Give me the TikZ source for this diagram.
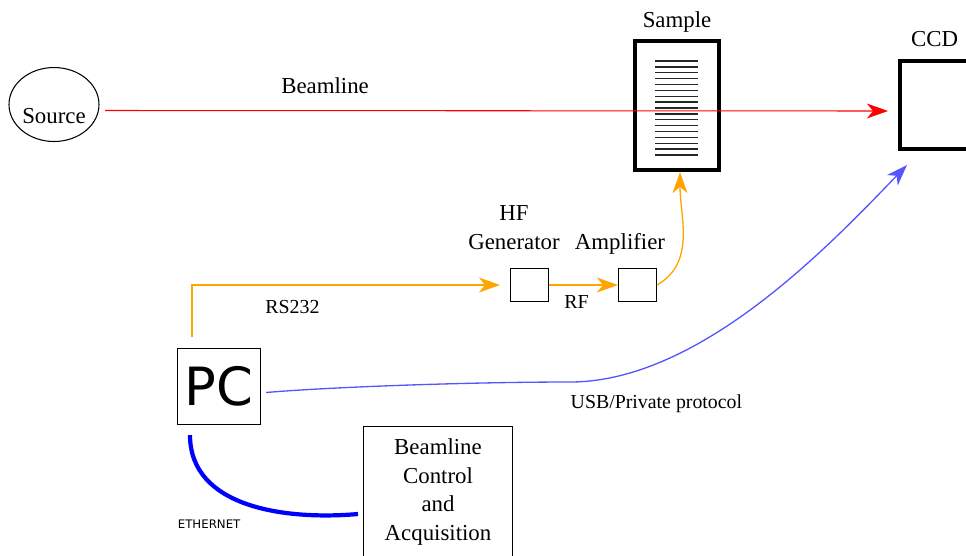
\documentclass[tikz,border=0pt]{standalone}
\usepackage{fontspec}
\setmainfont{Liberation Serif}
\newfontfamily\serifface{Liberation Serif}
\newfontfamily\pcfont{DejaVu Sans}
\usetikzlibrary{shapes.geometric, arrows.meta, positioning, calc}
\definecolor{BeamRed}{RGB}{255,0,0}
\definecolor{SignalOrange}{RGB}{255,165,0}
\definecolor{UsbBlue}{RGB}{85,85,255}
\definecolor{EthBlue}{RGB}{0,0,255}

\begin{document}
\begin{tikzpicture}[x=0.02cm, y=0.02cm,
        box/.style={rectangle, draw=black, line width=0.6pt, inner sep=2pt},
        heavy/.style={rectangle, draw=black, line width=2.3pt, fill=white},
        lbl/.style={font=\serifface\fontsize{13}{16.4}\selectfont},
        tag/.style={font=\serifface\fontsize{11.3}{13.5}\selectfont},
        headtip/.style={-{Stealth[length=12pt, width=8.5pt, inset=3.5pt]}},
        beam/.style={draw=BeamRed, line width=0.6pt, headtip},
        signal/.style={draw=SignalOrange, line width=0.75pt, headtip},
        usb/.style={draw=UsbBlue, line width=0.75pt, headtip},
        ether/.style={draw=EthBlue, line width=2.4pt},
        grating/.style={draw=black!85, line width=0.75pt}
    ]
        \useasboundingbox (0,0) rectangle (966,-555);
        \clip (0,0) rectangle (966,-555);

        % Source, echantillon et detecteur sur la ligne de faisceau
        \node[ellipse, draw=black, line width=0.6pt, minimum width=1.8cm, minimum height=1.48cm, inner sep=0pt, label={[lbl, yshift=-0.24cm]center:Source}] (source) at (54,-104.5) {};
        \node[heavy, minimum width=1.68cm, minimum height=2.58cm, label={[lbl, label distance=0cm]above:Sample}] (sample) at (677,-105.5) {};
        \node[heavy, minimum width=1.38cm, minimum height=1.76cm, label={[lbl, label distance=0.13cm]above:CCD}] (ccd) at (934.5,-105) {};

        % Chaine RF
        \node[box, minimum width=0.76cm, minimum height=0.66cm, label={[lbl, align=center, label distance=0.25cm, xshift=-0.31cm]above:{HF\\Generator}}] (hfgen) at (529.5,-285) {};
        \node[box, minimum width=0.76cm, minimum height=0.66cm, label={[lbl, label distance=0.15cm, xshift=-0.35cm]above:Amplifier}] (amp) at (637.5,-285) {};

        % Poste de controle
        \node[box, minimum width=1.66cm, minimum height=1.52cm, font=\pcfont\fontsize{30}{36}\selectfont] (pc) at (219,-386.5) {PC};
        \node[box, lbl, align=center, minimum width=2.98cm, minimum height=2.62cm] (bca) at (438,-492) {Beamline\\Control\\and\\Acquisition};

        % Lamelles de l'echantillon
        \foreach \k in {0,...,16}
            \draw[grating] ($(sample.center)+(-22,44.5-5.875*\k)$) -- ++(43,0);

        % Faisceau
        \draw[beam] ($(source.east)+(5.5,-6)$) -- node[lbl, pos=0.281, above=0.22cm] {Beamline} ($(ccd.west)+(-10,-6)$);

        % Liaisons RS232 et RF
        \draw[signal, shorten >=0.2cm] ($(pc.north)+(-27,11)$) |- node[tag, pos=0.658, below=0.17cm] {RS232} (hfgen.west);
        \draw[signal] (hfgen.east) -- node[tag, pos=0.4, below=0.07cm] {RF} (amp.west);
        \draw[signal] (amp.east) to[out=30, in=-90] ($(sample.south)+(3,0)$);

        % Liaison USB vers la camera
        \coordinate (usbbend) at (570,-382);
        \draw[usb] ($(pc.east)+(5,-6)$) .. controls (330,-387) and (470,-382) .. (usbbend) node[tag, anchor=north west, inner sep=0pt, yshift=-0.24cm] {USB/Private protocol} .. controls (700,-382) and (830,-245) .. ($(ccd.south west)+(9,-14)$);

        % Reseau
        \draw[ether] ($(pc.south)+(-29,-10)$) to[out=-90, in=185] node[pos=0.3, below=0.66cm, inner sep=0pt, xshift=-0.07cm, font=\pcfont\fontsize{6.7}{8}\selectfont] {ETHERNET} ($(bca.west)+(-5,-22)$);
    \end{tikzpicture}
\end{document}
